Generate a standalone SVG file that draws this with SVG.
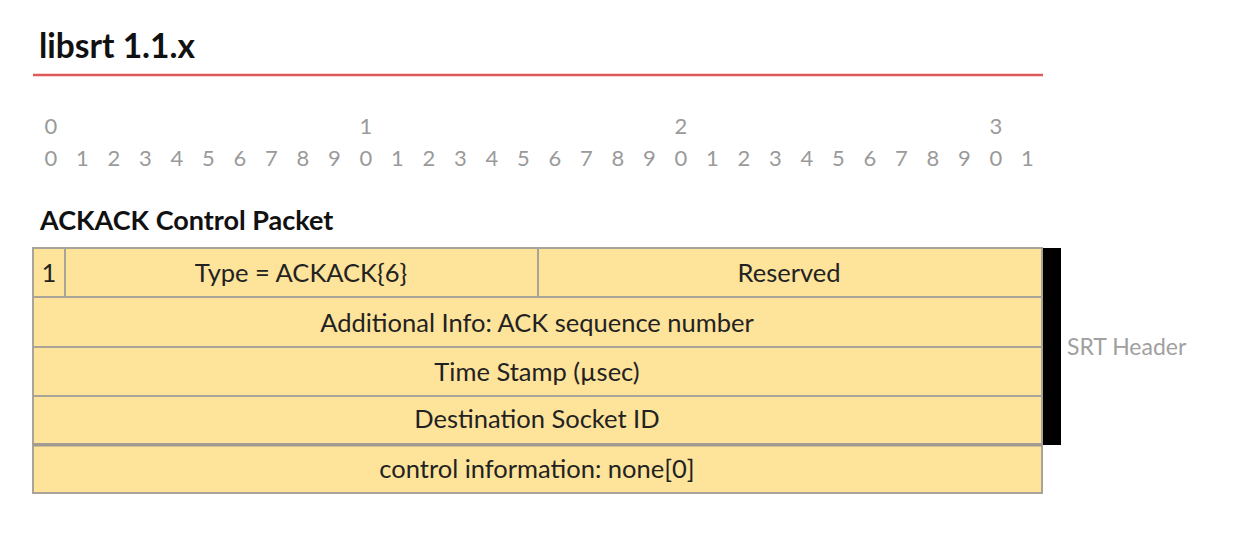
<svg xmlns="http://www.w3.org/2000/svg" width="1260" height="540" viewBox="0 0 1260 540">
<style>
.t{font-family:Lato,"Open Sans","Liberation Sans",sans-serif;}
.title{font-size:33.5px;font-weight:bold;fill:#111;}
.sub{font-size:27px;font-weight:bold;fill:#111;}
.dig{font-size:22px;fill:#9a9a9a;text-anchor:middle;}
.cell{fill:#fee39a;stroke:#a9a39a;stroke-width:2;}
.lbl{font-size:25.5px;fill:#222;text-anchor:middle;}
.side{font-size:23px;fill:#a0a0a0;}
</style>
<rect width="1260" height="540" fill="#fff"/>
<g id="title">
<text class="t title" x="39" y="58">libsrt 1.1.x</text>
<line x1="33" y1="75" x2="1043" y2="75" stroke="#e05a5a" stroke-width="2.5"/>
</g>
<g id="ruler">
<text class="t dig" x="51" y="134">0</text>
<text class="t dig" x="366" y="134">1</text>
<text class="t dig" x="681" y="134">2</text>
<text class="t dig" x="996" y="134">3</text>
<text class="t dig" y="166"><tspan x="51">0</tspan><tspan x="82.5">1</tspan><tspan x="114">2</tspan><tspan x="145.5">3</tspan><tspan x="177">4</tspan><tspan x="208.5">5</tspan><tspan x="240">6</tspan><tspan x="271.5">7</tspan><tspan x="303">8</tspan><tspan x="334.5">9</tspan><tspan x="366">0</tspan><tspan x="397.5">1</tspan><tspan x="429">2</tspan><tspan x="460.5">3</tspan><tspan x="492">4</tspan><tspan x="523.5">5</tspan><tspan x="555">6</tspan><tspan x="586.5">7</tspan><tspan x="618">8</tspan><tspan x="649.5">9</tspan><tspan x="681">0</tspan><tspan x="712.5">1</tspan><tspan x="744">2</tspan><tspan x="775.5">3</tspan><tspan x="807">4</tspan><tspan x="838.5">5</tspan><tspan x="870">6</tspan><tspan x="901.5">7</tspan><tspan x="933">8</tspan><tspan x="964.5">9</tspan><tspan x="996">0</tspan><tspan x="1027.5">1</tspan></text>
</g>
<text class="t sub" x="40" y="230">ACKACK Control Packet</text>
<g id="bar">
<rect x="1043" y="248" width="18" height="197" fill="#000"/>
<text class="t side" x="1067" y="355">SRT Header</text>
</g>
<g id="flag"><rect class="cell" x="33" y="248" width="32" height="49"/><text class="t lbl" x="49" y="282">1</text></g>
<g id="type"><rect class="cell" x="65" y="248" width="473" height="49"/><text class="t lbl" x="301" y="282">Type = ACKACK{6}</text></g>
<g id="reserved"><rect class="cell" x="538" y="248" width="504" height="49"/><text class="t lbl" x="789" y="282">Reserved</text></g>
<g id="addinfo"><rect class="cell" x="33" y="297" width="1009" height="50"/><text class="t lbl" x="537" y="332">Additional Info: ACK sequence number</text></g>
<g id="timestamp"><rect class="cell" x="33" y="347" width="1009" height="49"/><text class="t lbl" x="537" y="381">Time Stamp (µsec)</text></g>
<g id="dest"><rect class="cell" x="33" y="396" width="1009" height="48"/><text class="t lbl" x="537" y="428">Destination Socket ID</text></g>
<g id="ctrl"><rect class="cell" x="33" y="445" width="1009" height="48"/><line x1="33" y1="445" x2="1042" y2="445" stroke="#a09a92" stroke-width="3"/><text class="t lbl" x="537" y="478">control information: none[0]</text></g>
<g id="connectors"></g>
</svg>
